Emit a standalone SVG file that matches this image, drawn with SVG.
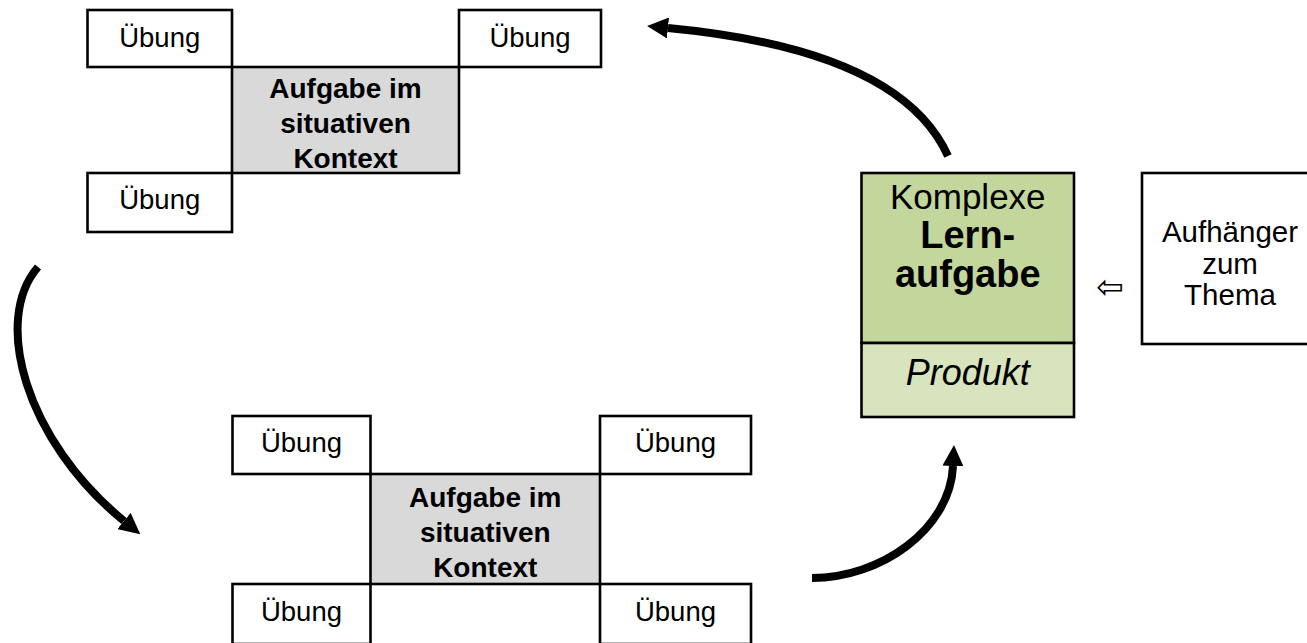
<svg xmlns="http://www.w3.org/2000/svg" width="1307" height="643" viewBox="0 0 1307 643">
  <style>
    .box { fill: #ffffff; stroke: #000000; stroke-width: 2.6; }
    .grey { fill: #d9d9d9; stroke: #000000; stroke-width: 2.6; }
    .green1 { fill: #c3d69b; stroke: #000000; stroke-width: 2.6; }
    .green2 { fill: #d7e4bd; stroke: #000000; stroke-width: 2.6; }
    text { font-family: "Liberation Sans", Arial, sans-serif; fill: #000000; text-anchor: middle; }
    .ub { font-size: 27.5px; }
    .bold { font-size: 28px; font-weight: bold; }
    .big { font-size: 35px; }
    .bigb { font-size: 38px; font-weight: bold; }
    .it { font-size: 36px; font-style: italic; }
    .auf { font-size: 29.5px; }
    .conn { fill: none; stroke: #000000; stroke-width: 8; }
  </style>
  <defs>
    <marker id="head" viewBox="0 0 21 21" markerWidth="21" markerHeight="21" refX="0" refY="10.5" orient="auto" markerUnits="userSpaceOnUse">
      <path d="M0,0 L21,10.5 L0,21 z" fill="#000000"/>
    </marker>
  </defs>
  <rect width="1307" height="643" fill="#ffffff"/>

  <!-- Top group -->
  <g id="top-uebung-tl">
    <rect class="box" x="87.5" y="10" width="144.5" height="57"/>
    <text class="ub" x="159.75" y="47">Übung</text>
  </g>
  <g id="top-uebung-tr">
    <rect class="box" x="459" y="10" width="142" height="57"/>
    <text class="ub" x="530" y="47">Übung</text>
  </g>
  <g id="top-aufgabe">
    <rect class="grey" x="232" y="67" width="227" height="106"/>
    <text class="bold" x="345.5" y="98">Aufgabe im</text>
    <text class="bold" x="345.5" y="133">situativen</text>
    <text class="bold" x="345.5" y="168">Kontext</text>
  </g>
  <g id="top-uebung-bl">
    <rect class="box" x="87.5" y="173" width="144.5" height="59"/>
    <text class="ub" x="159.75" y="209">Übung</text>
  </g>

  <!-- Bottom group -->
  <g id="bot-uebung-tl">
    <rect class="box" x="232.5" y="416" width="138" height="58"/>
    <text class="ub" x="301.5" y="452">Übung</text>
  </g>
  <g id="bot-uebung-tr">
    <rect class="box" x="600" y="416" width="151" height="58"/>
    <text class="ub" x="675.5" y="452">Übung</text>
  </g>
  <g id="bot-aufgabe">
    <rect class="grey" x="370.5" y="474" width="229.5" height="110"/>
    <text class="bold" x="485.25" y="507">Aufgabe im</text>
    <text class="bold" x="485.25" y="542">situativen</text>
    <text class="bold" x="485.25" y="577">Kontext</text>
  </g>
  <g id="bot-uebung-bl">
    <rect class="box" x="232.5" y="584" width="138" height="60"/>
    <text class="ub" x="301.5" y="621">Übung</text>
  </g>
  <g id="bot-uebung-br">
    <rect class="box" x="600" y="584" width="151" height="60"/>
    <text class="ub" x="675.5" y="621">Übung</text>
  </g>

  <!-- Komplexe Lernaufgabe -->
  <g id="lernaufgabe">
    <rect class="green1" x="861.5" y="173" width="212.5" height="170"/>
    <rect class="green2" x="861.5" y="343" width="212.5" height="74"/>
    <text class="big" x="967.75" y="209">Komplexe</text>
    <text class="bigb" x="967.75" y="248">Lern-</text>
    <text class="bigb" x="967.75" y="287">aufgabe</text>
    <text class="it" x="967.75" y="385">Produkt</text>
  </g>

  <!-- Aufhänger -->
  <g id="aufhaenger">
    <rect class="box" x="1142" y="173" width="178" height="171"/>
    <text class="auf" x="1230" y="242">Aufhänger</text>
    <text class="auf" x="1230" y="274">zum</text>
    <text class="auf" x="1230" y="305">Thema</text>
  </g>

  <g id="pointer">
    <text x="1110" y="298" style="font-family: 'DejaVu Sans', sans-serif; font-size: 33px;">⇦</text>
  </g>

  <!-- Connectors -->
  <g id="connectors">
    <path class="conn" d="M 948 156 Q 900 50 668 28" marker-end="url(#head)"/>
    <path class="conn" d="M 38 267 C -8 320 25 440 124 521" marker-end="url(#head)"/>
    <path class="conn" d="M 812 578 C 880 578 950 530 953 466" marker-end="url(#head)"/>
  </g>
</svg>
